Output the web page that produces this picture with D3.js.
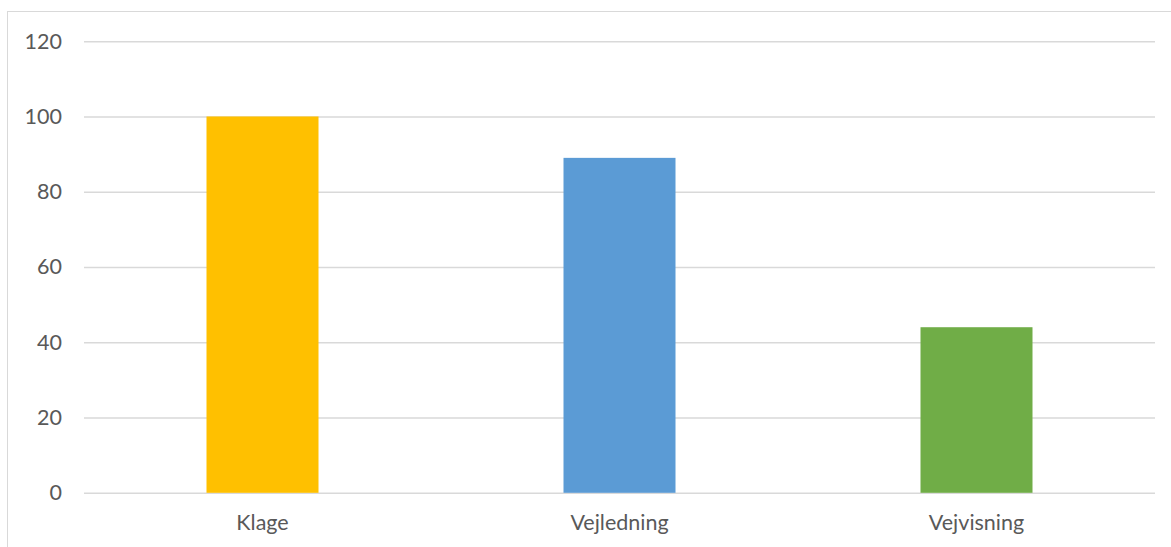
<!DOCTYPE html>
<html>
<head>
<meta charset="utf-8">
<script src="https://cdn.jsdelivr.net/npm/d3@7"></script>
<style>
  html, body { margin: 0; padding: 0; background: #fff; }
  svg { display: block; }
  text { font-family: Lato, "Open Sans", sans-serif; fill: #595959; }
</style>
</head>
<body>
<svg id="chart" width="1171" height="547"></svg>
<script>
const categories = ["Klage", "Vejledning", "Vejvisning"];
const values = [100, 89, 44];
const colors = ["#FFC000", "#5B9BD5", "#70AD47"];
const yTicks = [0, 20, 40, 60, 80, 100, 120];

const svg = d3.select("#chart");

// chart border (extends beyond frame on right/bottom)
svg.append("rect")
  .attr("x", 7.5).attr("y", 11.5)
  .attr("width", 1300).attr("height", 700)
  .attr("fill", "#fff")
  .attr("stroke", "#d9d9d9").attr("stroke-width", 1);

const plotLeft = 84, plotRight = 1155, plotTop = 41.2, plotBottom = 492.8;

const x = d3.scaleBand()
  .domain(categories)
  .range([plotLeft, plotRight])
  .paddingInner(1 - 112 / 357)
  .paddingOuter((1 - 112 / 357) / 2);

const y = d3.scaleLinear().domain([0, 120]).range([plotBottom, plotTop]);

// gridlines + y labels
const yAxis = d3.axisLeft(y).tickValues(yTicks).tickSize(-(plotRight - plotLeft)).tickPadding(22);
const gy = svg.append("g").attr("transform", `translate(${plotLeft},0)`).call(yAxis);
gy.select(".domain").remove();
gy.selectAll(".tick line").attr("stroke", "#d9d9d9").attr("stroke-width", 1.5);
gy.selectAll(".tick text")
  .attr("font-size", "21.5px")
  .attr("fill", "#595959")
  .attr("font-family", "Lato, 'Open Sans', sans-serif");

// bars
svg.append("g").selectAll("rect")
  .data(categories)
  .join("rect")
  .attr("x", d => x(d))
  .attr("width", x.bandwidth())
  .attr("y", (d, i) => y(values[i]))
  .attr("height", (d, i) => y(0) - y(values[i]))
  .attr("fill", (d, i) => colors[i]);

// x axis labels
const xAxis = d3.axisBottom(x).tickSize(0).tickPadding(0);
const gx = svg.append("g").attr("transform", `translate(0,${plotBottom})`).call(xAxis);
gx.select(".domain").remove();
gx.selectAll(".tick text")
  .attr("dy", null)
  .attr("y", 37)
  .attr("font-size", "21.5px")
  .attr("fill", "#595959")
  .attr("font-family", "Lato, 'Open Sans', sans-serif");
</script>
</body>
</html>
